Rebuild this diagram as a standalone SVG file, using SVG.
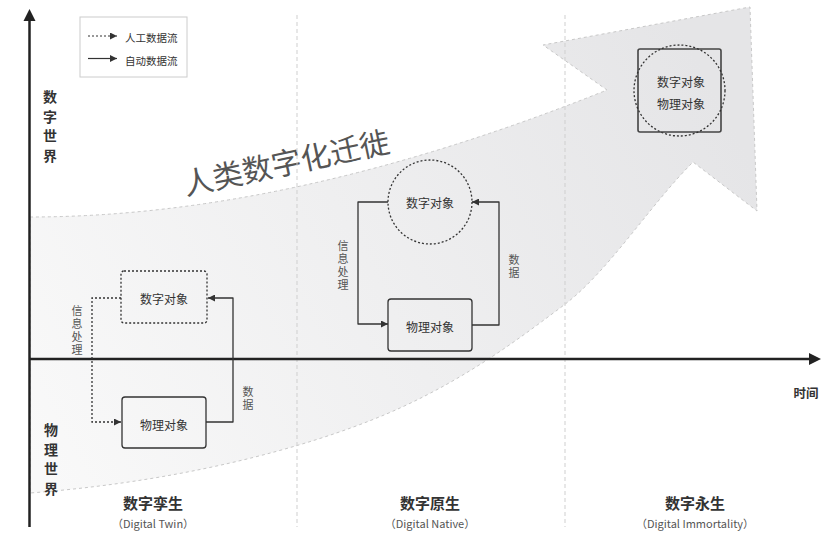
<svg xmlns="http://www.w3.org/2000/svg" width="840" height="547" viewBox="0 0 840 547">
<defs>
<linearGradient id="bandGrad" gradientUnits="userSpaceOnUse" x1="30" y1="460" x2="720" y2="100">
<stop offset="0" stop-color="#f9f9f9"/>
<stop offset="1" stop-color="#e5e5e7"/>
</linearGradient>
<marker id="arr" viewBox="0 0 8 8" refX="8" refY="4" markerWidth="7" markerHeight="7" markerUnits="userSpaceOnUse" orient="auto">
<path d="M0,0 L8,4 L0,8 Z" fill="#333"/>
</marker>
<style>
text{font-family:"Noto Sans CJK SC","Noto Sans",sans-serif;}
.sep{stroke:#cfcfcf;stroke-width:1;stroke-dasharray:4 3;fill:none;}
.axis{stroke:#222;stroke-width:2.5;fill:none;}
.solid{stroke:#333;stroke-width:1.3;fill:none;stroke-linejoin:round;}
.dot{stroke:#333;stroke-width:1.3;fill:none;stroke-dasharray:2 2;}
.box{stroke:#333;stroke-width:1.3;fill:none;}
.dbox{stroke:#333;stroke-width:1.3;fill:none;stroke-dasharray:2 2;}
.nt{font-size:12px;fill:#333;text-anchor:middle;dominant-baseline:central;}
.lbl{font-size:11px;fill:#555;text-anchor:middle;writing-mode:vertical-rl;letter-spacing:2px;}
.world{font-size:14px;fill:#333;font-weight:bold;text-anchor:middle;writing-mode:vertical-rl;letter-spacing:5.5px;}
.stage{font-size:15px;fill:#333;font-weight:bold;text-anchor:middle;dominant-baseline:central;}
.sub{font-size:11px;fill:#555;text-anchor:middle;dominant-baseline:central;}
.leg{font-size:10.5px;fill:#333;dominant-baseline:central;}
</style>
</defs>
<rect width="840" height="547" fill="#fff"/>

<g id="migration-band">
<path d="M30,217 Q290,217 607,90 L543,45 L750,7 L757,211 L693,162 C650,205 608,272 564,305 C520,338 470,376 400,408 C330,440 200,480 30,493 Z" fill="url(#bandGrad)" stroke="#c8c8c8" stroke-width="1" stroke-dasharray="3 3"/>
<text x="286" y="161" font-size="30" fill="#555" text-anchor="middle" dominant-baseline="central" transform="rotate(-12 286 161)">人类数字化迁徙</text>
</g>

<g id="separators">
<line class="sep" x1="297" y1="15" x2="297" y2="527"/>
<line class="sep" x1="565" y1="15" x2="565" y2="527"/>
</g>

<g id="axes">
<line class="axis" x1="29.5" y1="527" x2="29.5" y2="18"/>
<polygon points="29.5,9 23.5,21 35.5,21" fill="#222"/>
<line class="axis" x1="29.5" y1="359" x2="811" y2="359"/>
<polygon points="821,359 809,353 809,365" fill="#222"/>
<text x="806" y="392" font-size="12.5" font-weight="bold" fill="#333" text-anchor="middle" dominant-baseline="central">时间</text>
</g>

<g id="legend">
<rect x="80" y="17" width="107" height="60" fill="#fff" stroke="#ccc" stroke-width="1"/>
<line x1="88" y1="36" x2="117" y2="36" stroke="#333" stroke-width="1" stroke-dasharray="2 2" marker-end="url(#arr)"/>
<text class="leg" x="125" y="37">人工数据流</text>
<line x1="88" y1="58.5" x2="117" y2="58.5" stroke="#333" stroke-width="1.2" marker-end="url(#arr)"/>
<text class="leg" x="125" y="60">自动数据流</text>
</g>

<g id="world-labels">
<text class="world" x="50" y="129">数字世界</text>
<text class="world" x="51" y="462">物理世界</text>
</g>

<g id="connectors">
<path class="dot" d="M121,298 H92 V422 H121" marker-end="url(#arr)"/>
<path class="solid" d="M206,422 H233 V298 H208" marker-end="url(#arr)"/>
<path class="solid" d="M388,202 H358 V324 H388" marker-end="url(#arr)"/>
<path class="solid" d="M472,325 H499 V202 H472" marker-end="url(#arr)"/>
<text class="lbl" x="77" y="331.5">信息处理</text>
<text class="lbl" x="248" y="399.5">数据</text>
<text class="lbl" x="343" y="266.5">信息处理</text>
<text class="lbl" x="514" y="267.5">数据</text>
</g>

<g id="twin-digital">
<rect class="dbox" x="121" y="271" width="86" height="52" rx="3"/>
<text class="nt" x="164" y="298">数字对象</text>
</g>
<g id="twin-physical">
<rect class="box" x="122" y="397" width="84" height="51" rx="3"/>
<text class="nt" x="164" y="424">物理对象</text>
</g>

<g id="native-digital">
<circle class="dbox" cx="430" cy="202" r="42"/>
<text class="nt" x="430" y="202">数字对象</text>
</g>
<g id="native-physical">
<rect class="box" x="388" y="299" width="84" height="52" rx="3"/>
<text class="nt" x="430" y="326">物理对象</text>
</g>

<g id="immortal-object">
<rect x="638" y="49" width="83" height="83" rx="2" fill="none" stroke="#444" stroke-width="1.6"/>
<circle class="dbox" cx="679.5" cy="90.5" r="45.5"/>
<text class="nt" x="681" y="81">数字对象</text>
<text class="nt" x="681" y="103">物理对象</text>
</g>

<g id="stage-labels">
<text class="stage" x="153" y="502.5">数字孪生</text>
<text class="sub" x="153" y="522.5">（Digital Twin）</text>
<text class="stage" x="430" y="502.5">数字原生</text>
<text class="sub" x="430" y="522.5">（Digital Native）</text>
<text class="stage" x="695" y="502.5">数字永生</text>
<text class="sub" x="695" y="522.5">（Digital Immortality）</text>
</g>
</svg>
